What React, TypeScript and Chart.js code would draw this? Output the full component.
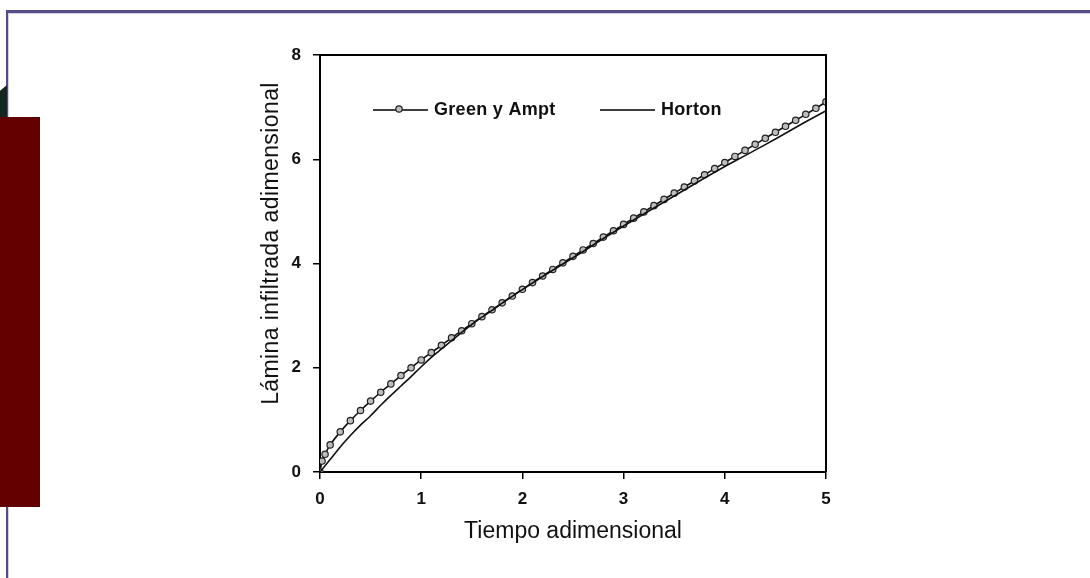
import React, { useEffect, useRef } from "react";
import { Chart, registerables } from "chart.js";

Chart.register(...registerables);

const gaTime = [0, 0.02, 0.05, 0.1, 0.2, 0.3, 0.4, 0.5, 0.6, 0.7, 0.8, 0.9, 1.0, 1.1, 1.2, 1.3, 1.4, 1.5, 1.6, 1.7, 1.8, 1.9, 2.0, 2.1, 2.2, 2.3, 2.4, 2.5, 2.6, 2.7, 2.8, 2.9, 3.0, 3.1, 3.2, 3.3, 3.4, 3.5, 3.6, 3.7, 3.8, 3.9, 4.0, 4.1, 4.2, 4.3, 4.4, 4.5, 4.6, 4.7, 4.8, 4.9, 5.0];
const gaDepth = [0, 0.21, 0.34, 0.52, 0.77, 0.985, 1.18, 1.36, 1.53, 1.69, 1.85, 2.0, 2.15, 2.29, 2.43, 2.575, 2.71, 2.845, 2.98, 3.113, 3.245, 3.376, 3.505, 3.634, 3.76, 3.886, 4.012, 4.137, 4.26, 4.383, 4.506, 4.628, 4.75, 4.87, 4.99, 5.11, 5.23, 5.35, 5.467, 5.585, 5.703, 5.82, 5.937, 6.054, 6.17, 6.286, 6.402, 6.517, 6.632, 6.747, 6.862, 6.977, 7.1];

const hortonTime = [0, 0.1, 0.2, 0.3, 0.4, 0.5, 0.6, 0.7, 0.8, 0.9, 1.0, 1.1, 1.2, 1.3, 1.4, 1.5, 1.6, 1.7, 1.8, 1.9, 2.0, 2.2, 2.4, 2.6, 2.8, 3.0, 3.2, 3.4, 3.6, 3.8, 4.0, 4.2, 4.4, 4.6, 4.8, 5.0];
const hortonDepth = [0, 0.24, 0.48, 0.7, 0.9, 1.08, 1.28, 1.47, 1.65, 1.83, 2.02, 2.2, 2.36, 2.52, 2.68, 2.83, 2.97, 3.1, 3.24, 3.37, 3.5, 3.75, 3.99, 4.23, 4.48, 4.72, 4.95, 5.18, 5.41, 5.64, 5.86, 6.07, 6.28, 6.5, 6.72, 6.93];

const xTicks = [0, 1, 2, 3, 4, 5];
const yTicks = [0, 2, 4, 6, 8];

const seriesNames = ["Green y Ampt", "Horton"];
const xTitle = "Tiempo adimensional";
const yTitle = "Lámina infiltrada adimensional";

const FONT = "'Liberation Sans', Arial, sans-serif";

const frameBoxPlugin = {
  id: "frameBox",
  afterDraw(chart: any) {
    const { ctx, chartArea } = chart;
    ctx.save();
    ctx.strokeStyle = "#000";
    ctx.lineWidth = 2;
    ctx.beginPath();
    ctx.moveTo(chartArea.left, chartArea.top);
    ctx.lineTo(chartArea.right, chartArea.top);
    ctx.lineTo(chartArea.right, chartArea.bottom);
    ctx.stroke();
    ctx.restore();
  },
};

const yTitlePlugin = {
  id: "yTitleCustom",
  afterDraw(chart: any) {
    const { ctx, chartArea } = chart;
    ctx.save();
    ctx.translate(chartArea.left - 48, (chartArea.top + chartArea.bottom) / 2 - 20);
    ctx.rotate(-Math.PI / 2);
    ctx.font = `23px ${FONT}`;
    ctx.fillStyle = "#111";
    ctx.textAlign = "center";
    ctx.textBaseline = "middle";
    try { (ctx as any).letterSpacing = "0.4px"; } catch (e) {}
    ctx.fillText(yTitle, 0, 0);
    ctx.restore();
  },
};

const legendPlugin = {
  id: "innerLegend",
  afterDraw(chart: any) {
    const { ctx, chartArea } = chart;
    const y = chartArea.top + 55;
    const x1 = chartArea.left + 53;
    const x2 = chartArea.left + 280;
    ctx.save();
    ctx.strokeStyle = "#000";
    ctx.lineWidth = 1.5;
    ctx.beginPath();
    ctx.moveTo(x1, y);
    ctx.lineTo(x1 + 55, y);
    ctx.moveTo(x2, y);
    ctx.lineTo(x2 + 55, y);
    ctx.stroke();
    ctx.beginPath();
    ctx.arc(x1 + 26, y - 1, 3.2, 0, Math.PI * 2);
    ctx.fillStyle = "#bdbdbd";
    ctx.fill();
    ctx.lineWidth = 1.2;
    ctx.strokeStyle = "#222";
    ctx.stroke();
    ctx.font = `bold 18px ${FONT}`;
    ctx.fillStyle = "#111";
    ctx.textAlign = "left";
    ctx.textBaseline = "middle";
    try { (ctx as any).letterSpacing = "0.3px"; } catch (e) {}
    ctx.fillText(seriesNames[0], x1 + 61, y);
    ctx.fillText(seriesNames[1], x2 + 61, y);
    ctx.restore();
  },
};

export default function App() {
  const ref = useRef<HTMLCanvasElement | null>(null);

  useEffect(() => {
    if (!ref.current) return;
    const chart = new Chart(ref.current, {
      type: "scatter",
      data: {
        datasets: [
          {
            label: seriesNames[1],
            data: hortonTime.map((t, i) => ({ x: t, y: hortonDepth[i] })),
            showLine: true,
            borderColor: "#111",
            borderWidth: 1.6,
            pointRadius: 0,
            tension: 0.2,
          },
          {
            label: seriesNames[0],
            data: gaTime.map((t, i) => ({ x: t, y: gaDepth[i] })),
            showLine: true,
            borderColor: "#111",
            borderWidth: 1.6,
            pointRadius: 3.2,
            pointBackgroundColor: "#bdbdbd",
            pointBorderColor: "#222",
            pointBorderWidth: 1.2,
            tension: 0.2,
          },
        ],
      },
      options: {
        responsive: false,
        animation: false,
        layout: { padding: { left: 240, right: 264, top: 55, bottom: 26 } },
        plugins: { legend: { display: false }, tooltip: { enabled: false } },
        scales: {
          x: {
            type: "linear",
            min: 0,
            max: 5,
            afterFit: (s: any) => { s.height = 80; },
            afterBuildTicks: (s: any) => { s.ticks = xTicks.map((v) => ({ value: v })); },
            ticks: {
              stepSize: 1,
              padding: 10,
              color: "#111",
              font: { family: FONT, size: 17, weight: "bold" },
            },
            grid: { drawOnChartArea: false, drawTicks: true, tickLength: 7, color: "#000", lineWidth: 1.5 },
            border: { display: true, color: "#000", width: 2 },
            title: {
              display: true,
              text: xTitle,
              color: "#111",
              font: { family: FONT, size: 23 },
              padding: { top: 0, bottom: 7 },
            },
          },
          y: {
            type: "linear",
            min: 0,
            max: 8,
            afterFit: (s: any) => { s.width = 80; },
            afterBuildTicks: (s: any) => { s.ticks = yTicks.map((v) => ({ value: v })); },
            ticks: {
              stepSize: 2,
              padding: 12,
              color: "#111",
              font: { family: FONT, size: 17, weight: "bold" },
            },
            grid: { drawOnChartArea: false, drawTicks: true, tickLength: 7, color: "#000", lineWidth: 1.5 },
            border: { display: true, color: "#000", width: 2 },
          },
        },
      },
      plugins: [frameBoxPlugin, yTitlePlugin, legendPlugin],
    } as any);
    return () => chart.destroy();
  }, []);

  return (
    <div style={{ position: "absolute", left: 0, top: 0, width: 1090, height: 578, background: "#fff", overflow: "hidden" }}>
      <div style={{ position: "absolute", left: 6, top: 10, width: 1084, height: 3, background: "#574a8b" }} />
      <div style={{ position: "absolute", left: 8, top: 13, width: 1082, height: 1, background: "#d6d0e6" }} />
      <div style={{ position: "absolute", left: 6, top: 10, width: 2, height: 568, background: "#574a8b" }} />
      <div style={{ position: "absolute", left: 8, top: 13, width: 1, height: 565, background: "#d6d0e6" }} />
      <div style={{ position: "absolute", left: 0, top: 85, width: 7, height: 32, background: "#12281d", clipPath: "polygon(100% 0, 100% 100%, 0 100%, 0 18%)" }} />
      <div style={{ position: "absolute", left: 0, top: 117, width: 40, height: 390, background: "#630000" }} />
      <canvas ref={ref} width={1090} height={578} style={{ position: "absolute", left: 0, top: 0, width: 1090, height: 578 }} />
    </div>
  );
}
